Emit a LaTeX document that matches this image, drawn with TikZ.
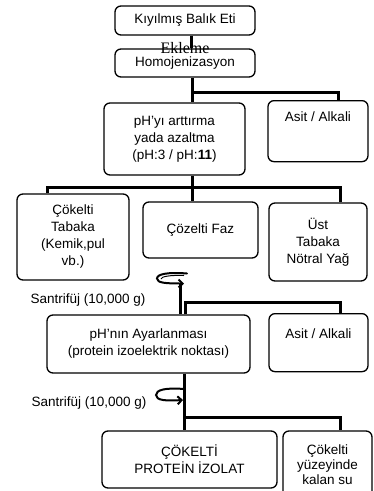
\documentclass[tikz,border=0pt]{standalone}
\usepackage{fontspec}
\setmainfont{Liberation Sans}
\newfontfamily\eklemefont{Liberation Serif}
\usetikzlibrary{arrows.meta}

\begin{document}
\begin{tikzpicture}[x=1pt, y=-1pt,
  every node/.style={font=\fontsize{13.5}{17}\selectfont},
  kutu/.style={draw, line width=1.3pt, rounded corners=6pt, align=center, inner sep=2pt},
  hat/.style={line width=3pt},
  santrifuj/.style={line width=2pt, line cap=round, -{Straight Barb[length=4pt, width=8pt]}}]
  \useasboundingbox (0,0) rectangle (374,491);

  % Raw fish and homogenising
  \node[kutu, minimum width=140pt, minimum height=29pt] (kiyma) at (185,20.5) {Kıyılmış Balık Eti};
  \node[kutu, minimum width=140pt, minimum height=28pt] (homo) at (185,63) {Homojenizasyon};
  \node[font=\eklemefont\fontsize{16}{18}\selectfont, inner sep=0pt] (ekleme) at (185,48) {Ekleme};
  \draw[hat] ([xshift=6pt]kiyma.south) -- ([xshift=6pt]homo.north);

  % pH shift
  \node[kutu, minimum width=141pt, minimum height=72pt] (phset) at (174.5,139)
    {pH'yı arttırma\\yada azaltma\\(pH:3 / pH:\textbf{11})};
  \node[kutu, anchor=north, minimum width=100pt, text height=19pt, text depth=38pt] (asit1) at (318,100) {Asit / Alkali};
  \coordinate (j1) at (192,92);
  \draw[hat] (homo.south -| j1) -- (phset.north -| j1);
  \draw[hat] (j1) -| ([xshift=20pt]asit1.north);

  % Three phases after the shift
  \node[kutu, minimum width=112pt, minimum height=86pt] (cokeltib) at (73,237)
    {Çökelti\\Tabaka\\(Kemik,pul\\vb.)};
  \node[kutu, minimum width=115pt, minimum height=56pt] (cozelti) at (200.5,230) {Çözelti Faz};
  \node[kutu, minimum width=98pt, minimum height=78pt] (ust) at (318,242) {Üst\\Tabaka\\Nötral Yağ};
  \coordinate (j2) at (192,187);
  \draw[hat] (phset.south -| j2) -- (cozelti.north -| j2);
  \draw[hat] ([xshift=-26pt]cokeltib.north) |- (j2) -| ([xshift=22pt]ust.north);

  % First centrifuge
  \draw[santrifuj] (187,273.5) .. controls (168,272) and (157,274) .. (157,278.5)
    .. controls (157,283) and (166,283.5) .. (184,283.5);
  \draw[line width=1pt] (184,275.5) .. controls (170,275) and (161,276.5) .. (161,279);
  \node (santri1) at (88,300) {Santrifüj (10,000 g)};

  % Isoelectric point
  \node[kutu, minimum width=203pt, minimum height=58pt] (phiso) at (148.5,344)
    {pH'nın Ayarlanması\\(protein izoelektrik noktası)};
  \node[kutu, anchor=north, minimum width=99pt, text height=23pt, text depth=31pt] (asit2) at (318.5,313) {Asit / Alkali};
  \coordinate (s1) at (180,284);
  \draw[hat] (s1) -- (s1 |- phiso.north);
  \coordinate (j3) at (340,302);
  \draw[hat] ([xshift=37pt]phiso.north) |- (j3) -- (j3 |- asit2.north);

  % Second centrifuge
  \draw[santrifuj] (184,389) .. controls (165,387.5) and (156,390) .. (156,395)
    .. controls (156,400.5) and (166,401) .. (183,400);
  \node (santri2) at (89,403) {Santrifüj (10,000 g)};

  % Products
  \node[kutu, minimum width=175pt, minimum height=57pt] (izolat) at (189.5,459.5) {ÇÖKELTİ\\PROTEİN İZOLAT};
  \node[kutu, minimum width=89pt, minimum height=67pt, font=\fontsize{13.5}{15}\selectfont] (su) at (327.5,464.5)
    {Çökelti\\yüzeyinde\\kalan su};
  \coordinate (j4) at (184,417);
  \draw[hat] (j4 |- phiso.south) -- (j4 |- izolat.north);
  \draw[hat] (j4) -| ([xshift=12.5pt]su.north);
\end{tikzpicture}
\end{document}
